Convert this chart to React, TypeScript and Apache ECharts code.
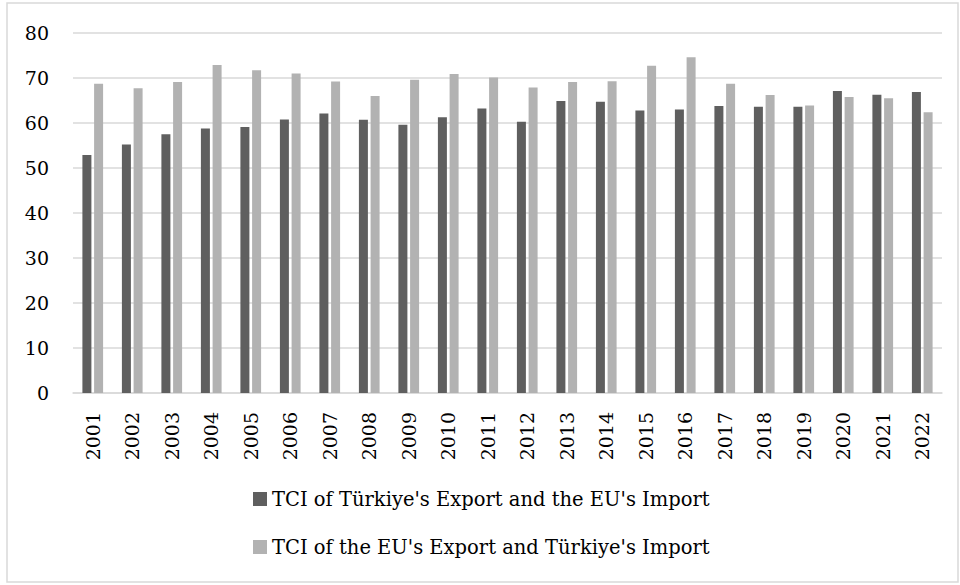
import React, { useEffect, useRef } from "react";
import * as echarts from "echarts";

const years = ["2001","2002","2003","2004","2005","2006","2007","2008","2009","2010","2011","2012","2013","2014","2015","2016","2017","2018","2019","2020","2021","2022"];
const seriesNames = ["TCI of Türkiye's Export and the EU's Import", "TCI of the EU's Export and Türkiye's Import"];
const turkiyeExport = [52.9,55.2,57.5,58.8,59.1,60.8,62.1,60.7,59.6,61.3,63.2,60.3,64.9,64.7,62.8,63.0,63.8,63.6,63.6,67.1,66.3,66.9];
const euExport = [68.7,67.7,69.1,72.9,71.7,71.0,69.2,66.0,69.6,70.9,70.1,67.9,69.1,69.3,72.7,74.6,68.7,66.2,63.9,65.8,65.5,62.4];
const yTicks = [0, 10, 20, 30, 40, 50, 60, 70, 80];

const FONT = "'DejaVu Serif', serif";

export default function App() {
  const ref = useRef<HTMLDivElement>(null);
  useEffect(() => {
    if (!ref.current) return;
    const chart = echarts.init(ref.current, null, { renderer: "svg" });
    chart.setOption({
      animation: false,
      backgroundColor: "#ffffff",
      textStyle: { fontFamily: FONT },
      graphic: [
        {
          type: "rect",
          shape: { x: 7, y: 3, width: 951, height: 579 },
          style: { fill: "none", stroke: "#d9d9d9", lineWidth: 1.5 },
          silent: true,
        },
      ],
      grid: { left: 73, right: 18, top: 33, bottom: 192, containLabel: false },
      legend: {
        orient: "vertical",
        left: 248,
        top: 484,
        itemWidth: 14,
        itemHeight: 14,
        itemGap: 28,
        icon: "rect",
        textStyle: { fontFamily: FONT, fontSize: 19.5, color: "#000" },
        data: seriesNames,
      },
      xAxis: {
        type: "category",
        data: years,
        axisLine: { lineStyle: { color: "#d9d9d9", width: 1.5 } },
        axisTick: { show: false },
        axisLabel: {
          rotate: 90,
          margin: 19,
          fontFamily: FONT,
          fontSize: 19,
          color: "#000",
        },
      },
      yAxis: {
        type: "value",
        min: yTicks[0],
        max: yTicks[yTicks.length - 1],
        interval: 10,
        axisLine: { show: false },
        axisTick: { show: false },
        splitLine: { lineStyle: { color: "#d9d9d9", width: 1.5 } },
        axisLabel: { margin: 24, fontFamily: FONT, fontSize: 19, color: "#000" },
      },
      series: [
        {
          name: seriesNames[0],
          type: "bar",
          data: turkiyeExport,
          barWidth: 9,
          barGap: "30%",
          itemStyle: { color: "#5f5f5f" },
        },
        {
          name: seriesNames[1],
          type: "bar",
          data: euExport,
          barWidth: 9,
          itemStyle: { color: "#b2b2b2" },
        },
      ],
    });
    return () => chart.dispose();
  }, []);
  return (
    <div
      ref={ref}
      style={{ position: "fixed", left: 0, top: 0, width: 960, height: 585 }}
    />
  );
}
